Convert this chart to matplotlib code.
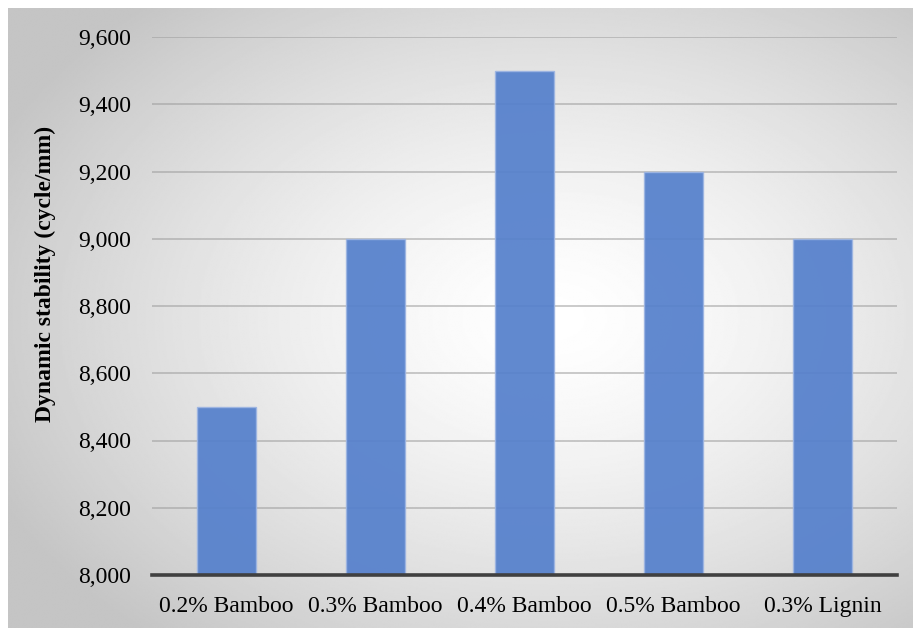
import numpy as np
import matplotlib.pyplot as plt
from matplotlib.ticker import FuncFormatter, MultipleLocator

plt.rcParams['font.family'] = ['Liberation Serif', 'DejaVu Serif']

# Dynamic stability by fibre type and content
mixes = ['0.2% Bamboo', '0.3% Bamboo', '0.4% Bamboo', '0.5% Bamboo', '0.3% Lignin']
stability = [8500, 9000, 9500, 9200, 9000]

W, H = 913, 628
fig = plt.figure(figsize=(W / 100, H / 100), dpi=100)
fig.patch.set_facecolor('white')

# radial grey-to-white backdrop of the chart area
bg = fig.add_axes([8 / W, 0, 1 - 8 / W, 1 - 8 / H])
bg.set_axis_off()
yy, xx = np.mgrid[0:400, 0:600]
cx, cy = 0.6 * 600, 0.5 * 400
r = np.hypot((xx - cx) / 600, (yy - cy) / 400)
shade = 1.0 - 0.23 * np.clip(r / 0.68, 0, 1) ** 1.4
bg.imshow(shade, cmap='gray', vmin=0, vmax=1, aspect='auto',
          extent=[0, 1, 0, 1], interpolation='bilinear')
bg.set_xlim(0, 1)
bg.set_ylim(0, 1)

ax = fig.add_axes([152 / W, 1 - 575 / H, (897 - 152) / W, (575 - 37) / H])
ax.set_facecolor('none')

x = np.arange(len(mixes))
ax.bar(x, stability, width=0.39, bottom=0, color='#5580cc', alpha=0.93,
       edgecolor='#9db5e2', linewidth=1.0, zorder=3)

ax.set_ylim(8000, 9600)
ax.set_xlim(-0.5, len(mixes) - 0.5)
ax.yaxis.set_major_locator(MultipleLocator(200))
ax.yaxis.set_major_formatter(FuncFormatter(lambda v, p: f'{int(v):,}'))
ax.grid(axis='y', color='#9a9a9a', alpha=0.6, linewidth=1.2, zorder=1)
ax.set_axisbelow(True)

ax.set_xticks(x)
ax.set_xticklabels(mixes)
ax.tick_params(axis='both', length=0, labelsize=17, colors='black')
ax.tick_params(axis='y', pad=15)
ax.tick_params(axis='x', pad=15)

for s in ['top', 'right', 'left']:
    ax.spines[s].set_visible(False)
ax.spines['bottom'].set_color('#404040')
ax.spines['bottom'].set_linewidth(2.6)
ax.spines['bottom'].set_zorder(4)

# axis title sits a little above the middle of the plot area
fig.text(45 / W, 1 - 274 / H, 'Dynamic stability (cycle/mm)', fontsize=17,
         fontweight='bold', rotation=90, ha='center', va='center')

fig.savefig('out.png', dpi=100)
